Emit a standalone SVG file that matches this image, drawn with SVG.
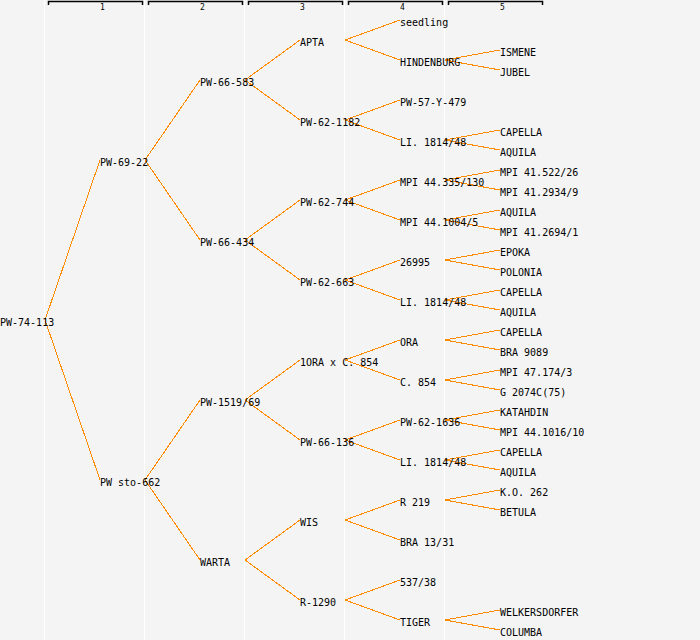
<svg xmlns="http://www.w3.org/2000/svg" width="700" height="640" viewBox="0 0 700 640">
<style>
.bg{fill:#f4f4f4}
.col{stroke:#ffffff;stroke-width:1}
.hdr{fill:none;stroke:#000;stroke-width:1.5}
.hl{font-family:"DejaVu Sans Mono","Liberation Mono",monospace;font-size:8px;fill:#000}
.e line{stroke:#ff8c00;stroke-width:1;shape-rendering:crispEdges}
.n text{font-family:"DejaVu Sans Mono","Liberation Mono",monospace;font-size:10px;fill:#000}
</style>
<rect class="bg" x="0" y="0" width="700" height="640"/>
<g id="columns">
<line class="col" x1="44.5" y1="0" x2="44.5" y2="640"/>
<line class="col" x1="144.5" y1="0" x2="144.5" y2="640"/>
<line class="col" x1="244.5" y1="0" x2="244.5" y2="640"/>
<line class="col" x1="344.5" y1="0" x2="344.5" y2="640"/>
<line class="col" x1="444.5" y1="0" x2="444.5" y2="640"/>
</g>
<g id="header">
<polyline class="hdr" points="48.5,5 48.5,1.5 142.5,1.5 142.5,5"/>
<polyline class="hdr" points="148.5,5 148.5,1.5 242.5,1.5 242.5,5"/>
<polyline class="hdr" points="248.5,5 248.5,1.5 342.5,1.5 342.5,5"/>
<polyline class="hdr" points="348.5,5 348.5,1.5 442.5,1.5 442.5,5"/>
<polyline class="hdr" points="448.5,5 448.5,1.5 542.5,1.5 542.5,5"/>
<text class="hl" x="100" y="10">1</text>
<text class="hl" x="200" y="10">2</text>
<text class="hl" x="300" y="10">3</text>
<text class="hl" x="400" y="10">4</text>
<text class="hl" x="500" y="10">5</text>
</g>
<g id="connectors" class="e">
<line x1="45" y1="320" x2="100" y2="160"/>
<line x1="45" y1="320" x2="100" y2="480"/>
<line x1="145" y1="160" x2="200" y2="80"/>
<line x1="145" y1="160" x2="200" y2="240"/>
<line x1="145" y1="480" x2="200" y2="400"/>
<line x1="145" y1="480" x2="200" y2="560"/>
<line x1="245" y1="80" x2="300" y2="40"/>
<line x1="245" y1="80" x2="300" y2="120"/>
<line x1="245" y1="240" x2="300" y2="200"/>
<line x1="245" y1="240" x2="300" y2="280"/>
<line x1="245" y1="400" x2="300" y2="360"/>
<line x1="245" y1="400" x2="300" y2="440"/>
<line x1="245" y1="560" x2="300" y2="520"/>
<line x1="245" y1="560" x2="300" y2="600"/>
<line x1="345" y1="40" x2="400" y2="20"/>
<line x1="345" y1="40" x2="400" y2="60"/>
<line x1="345" y1="120" x2="400" y2="100"/>
<line x1="345" y1="120" x2="400" y2="140"/>
<line x1="345" y1="200" x2="400" y2="180"/>
<line x1="345" y1="200" x2="400" y2="220"/>
<line x1="345" y1="280" x2="400" y2="260"/>
<line x1="345" y1="280" x2="400" y2="300"/>
<line x1="345" y1="360" x2="400" y2="340"/>
<line x1="345" y1="360" x2="400" y2="380"/>
<line x1="345" y1="440" x2="400" y2="420"/>
<line x1="345" y1="440" x2="400" y2="460"/>
<line x1="345" y1="520" x2="400" y2="500"/>
<line x1="345" y1="520" x2="400" y2="540"/>
<line x1="345" y1="600" x2="400" y2="580"/>
<line x1="345" y1="600" x2="400" y2="620"/>
<line x1="445" y1="60" x2="500" y2="50"/>
<line x1="445" y1="60" x2="500" y2="70"/>
<line x1="445" y1="140" x2="500" y2="130"/>
<line x1="445" y1="140" x2="500" y2="150"/>
<line x1="445" y1="180" x2="500" y2="170"/>
<line x1="445" y1="180" x2="500" y2="190"/>
<line x1="445" y1="220" x2="500" y2="210"/>
<line x1="445" y1="220" x2="500" y2="230"/>
<line x1="445" y1="260" x2="500" y2="250"/>
<line x1="445" y1="260" x2="500" y2="270"/>
<line x1="445" y1="300" x2="500" y2="290"/>
<line x1="445" y1="300" x2="500" y2="310"/>
<line x1="445" y1="340" x2="500" y2="330"/>
<line x1="445" y1="340" x2="500" y2="350"/>
<line x1="445" y1="380" x2="500" y2="370"/>
<line x1="445" y1="380" x2="500" y2="390"/>
<line x1="445" y1="420" x2="500" y2="410"/>
<line x1="445" y1="420" x2="500" y2="430"/>
<line x1="445" y1="460" x2="500" y2="450"/>
<line x1="445" y1="460" x2="500" y2="470"/>
<line x1="445" y1="500" x2="500" y2="490"/>
<line x1="445" y1="500" x2="500" y2="510"/>
<line x1="445" y1="620" x2="500" y2="610"/>
<line x1="445" y1="620" x2="500" y2="630"/>
</g>
<g class="n">
<g id="n-root"><text x="0" y="326">PW-74-113</text></g>
<g id="n-pw-69-22"><text x="100" y="166">PW-69-22</text></g>
<g id="n-pw-sto-662"><text x="100" y="486">PW sto-662</text></g>
<g id="n-pw-66-583"><text x="200" y="86">PW-66-583</text></g>
<g id="n-pw-66-434"><text x="200" y="246">PW-66-434</text></g>
<g id="n-pw-1519-69"><text x="200" y="406">PW-1519/69</text></g>
<g id="n-warta"><text x="200" y="566">WARTA</text></g>
<g id="n-apta"><text x="300" y="46">APTA</text></g>
<g id="n-pw-62-1182"><text x="300" y="126">PW-62-1182</text></g>
<g id="n-pw-62-744"><text x="300" y="206">PW-62-744</text></g>
<g id="n-pw-62-663"><text x="300" y="286">PW-62-663</text></g>
<g id="n-1ora-x-c854"><text x="300" y="366">1ORA x C. 854</text></g>
<g id="n-pw-66-136"><text x="300" y="446">PW-66-136</text></g>
<g id="n-wis"><text x="300" y="526">WIS</text></g>
<g id="n-r-1290"><text x="300" y="606">R-1290</text></g>
<g id="n-seedling"><text x="400" y="26">seedling</text></g>
<g id="n-hindenburg"><text x="400" y="66">HINDENBURG</text></g>
<g id="n-pw-57-y-479"><text x="400" y="106">PW-57-Y-479</text></g>
<g id="n-li-1814-48-a"><text x="400" y="146">LI. 1814/48</text></g>
<g id="n-mpi-44-335-130"><text x="400" y="186">MPI 44.335/130</text></g>
<g id="n-mpi-44-1004-5"><text x="400" y="226">MPI 44.1004/5</text></g>
<g id="n-26995"><text x="400" y="266">26995</text></g>
<g id="n-li-1814-48-b"><text x="400" y="306">LI. 1814/48</text></g>
<g id="n-ora"><text x="400" y="346">ORA</text></g>
<g id="n-c-854"><text x="400" y="386">C. 854</text></g>
<g id="n-pw-62-1636"><text x="400" y="426">PW-62-1636</text></g>
<g id="n-li-1814-48-c"><text x="400" y="466">LI. 1814/48</text></g>
<g id="n-r-219"><text x="400" y="506">R 219</text></g>
<g id="n-bra-13-31"><text x="400" y="546">BRA 13/31</text></g>
<g id="n-537-38"><text x="400" y="586">537/38</text></g>
<g id="n-tiger"><text x="400" y="626">TIGER</text></g>
<g id="n-ismene"><text x="500" y="56">ISMENE</text></g>
<g id="n-jubel"><text x="500" y="76">JUBEL</text></g>
<g id="n-capella-1"><text x="500" y="136">CAPELLA</text></g>
<g id="n-aquila-1"><text x="500" y="156">AQUILA</text></g>
<g id="n-mpi-41-522-26"><text x="500" y="176">MPI 41.522/26</text></g>
<g id="n-mpi-41-2934-9"><text x="500" y="196">MPI 41.2934/9</text></g>
<g id="n-aquila-2"><text x="500" y="216">AQUILA</text></g>
<g id="n-mpi-41-2694-1"><text x="500" y="236">MPI 41.2694/1</text></g>
<g id="n-epoka"><text x="500" y="256">EPOKA</text></g>
<g id="n-polonia"><text x="500" y="276">POLONIA</text></g>
<g id="n-capella-2"><text x="500" y="296">CAPELLA</text></g>
<g id="n-aquila-3"><text x="500" y="316">AQUILA</text></g>
<g id="n-capella-3"><text x="500" y="336">CAPELLA</text></g>
<g id="n-bra-9089"><text x="500" y="356">BRA 9089</text></g>
<g id="n-mpi-47-174-3"><text x="500" y="376">MPI 47.174/3</text></g>
<g id="n-g-2074c75"><text x="500" y="396">G 2074C(75)</text></g>
<g id="n-katahdin"><text x="500" y="416">KATAHDIN</text></g>
<g id="n-mpi-44-1016-10"><text x="500" y="436">MPI 44.1016/10</text></g>
<g id="n-capella-4"><text x="500" y="456">CAPELLA</text></g>
<g id="n-aquila-4"><text x="500" y="476">AQUILA</text></g>
<g id="n-ko-262"><text x="500" y="496">K.O. 262</text></g>
<g id="n-betula"><text x="500" y="516">BETULA</text></g>
<g id="n-welkersdorfer"><text x="500" y="616">WELKERSDORFER</text></g>
<g id="n-columba"><text x="500" y="636">COLUMBA</text></g>
</g>
</svg>
